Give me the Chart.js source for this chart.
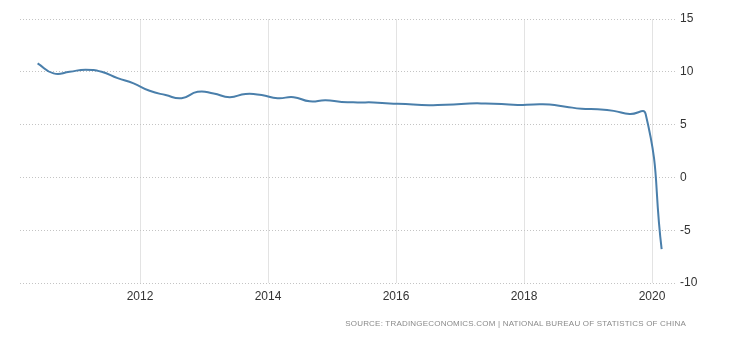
<!DOCTYPE html>
<html>
<head>
<meta charset="utf-8">
<script src="https://cdn.jsdelivr.net/npm/chart.js@4"></script>
<style>
	body { margin: 0; background: #fff; }
	#wrap { position: relative; width: 730px; height: 340px; }
	#source {
		position: absolute; left: 0; width: 686px; top: 319px;
		text-align: right; color: #8a8a8a;
		font: 8px "Liberation Sans", Arial, sans-serif; letter-spacing: 0.2px;
	}
</style>
</head>
<body>
<div id="wrap">
	<canvas id="gdpChart" width="730" height="340"></canvas>
	<div id="source">SOURCE: TRADINGECONOMICS.COM | NATIONAL BUREAU OF STATISTICS OF CHINA</div>
</div>
<script>
const quarters = [
	"2010Q2", "2010Q3", "2010Q4",
	"2011Q1", "2011Q2", "2011Q3", "2011Q4",
	"2012Q1", "2012Q2", "2012Q3", "2012Q4",
	"2013Q1", "2013Q2", "2013Q3", "2013Q4",
	"2014Q1", "2014Q2", "2014Q3", "2014Q4",
	"2015Q1", "2015Q2", "2015Q3", "2015Q4",
	"2016Q1", "2016Q2", "2016Q3", "2016Q4",
	"2017Q1", "2017Q2", "2017Q3", "2017Q4",
	"2018Q1", "2018Q2", "2018Q3", "2018Q4",
	"2019Q1", "2019Q2", "2019Q3", "2019Q4",
	"2020Q1"
];
const growth = [
	10.8, 9.85, 10.0,
	10.2, 10.0, 9.4, 8.9,
	8.2, 7.8, 7.5, 8.1,
	7.95, 7.6, 7.9, 7.8,
	7.5, 7.6, 7.2, 7.3,
	7.15, 7.1, 7.1, 7.0,
	6.95, 6.85, 6.85, 6.9,
	7.0, 7.0, 6.95, 6.85,
	6.9, 6.9, 6.7, 6.5,
	6.45, 6.3, 6.0, 6.0,
	-6.8
];
const yearTicks = [2012, 2014, 2016, 2018, 2020];
const valueTicks = [-10, -5, 0, 5, 10, 15];

// quarter label -> position on a year axis
const quarterPos = function (q) {
	const year = parseInt(q.slice(0, 4));
	const n = parseInt(q.slice(5));
	return year + (n - 1) * 0.25 + 0.15;
};

const points = quarters.map(function (q, i) {
	return { x: quarterPos(q), y: growth[i] };
});

const tickFont = { family: "'Liberation Sans', Arial, sans-serif", size: 12 };

const ctx = document.getElementById("gdpChart").getContext("2d");
const myChart = new Chart(ctx, {
	type: "line",
	data: {
		datasets: [
			{
				label: "GDP Annual Growth Rate",
				data: points,
				borderColor: "#4a7fab",
				borderWidth: 2,
				pointRadius: 0,
				tension: 0.5,
				fill: false,
			},
		],
	},
	options: {
		responsive: false,
		animation: false,
		devicePixelRatio: 1,
		layout: { padding: { left: 20, top: 19, right: 0, bottom: 33 } },
		plugins: { legend: { display: false }, tooltip: { enabled: false } },
		scales: {
			x: {
				type: "linear",
				min: 2010.125,
				max: 2020.39,
				afterBuildTicks: function (axis) {
					axis.ticks = yearTicks.map(function (v) { return { value: v }; });
				},
				afterFit: function (axis) { axis.height = 24; },
				grid: { color: "#e3e3e3", drawTicks: false },
				border: { display: false },
				ticks: {
					padding: 6,
					color: "#333",
					font: tickFont,
					maxRotation: 0,
					callback: function (v) { return String(v); },
				},
			},
			y: {
				position: "right",
				min: -10,
				max: 15,
				afterBuildTicks: function (axis) {
					axis.ticks = valueTicks.map(function (v) { return { value: v }; });
				},
				afterFit: function (axis) { axis.width = 53; },
				grid: { color: "#c4c4c4", drawTicks: false },
				border: { display: false, dash: [1, 2] },
				ticks: {
					padding: 3,
					color: "#333",
					font: tickFont,
				},
			},
		},
	},
});
</script>
</body>
</html>
